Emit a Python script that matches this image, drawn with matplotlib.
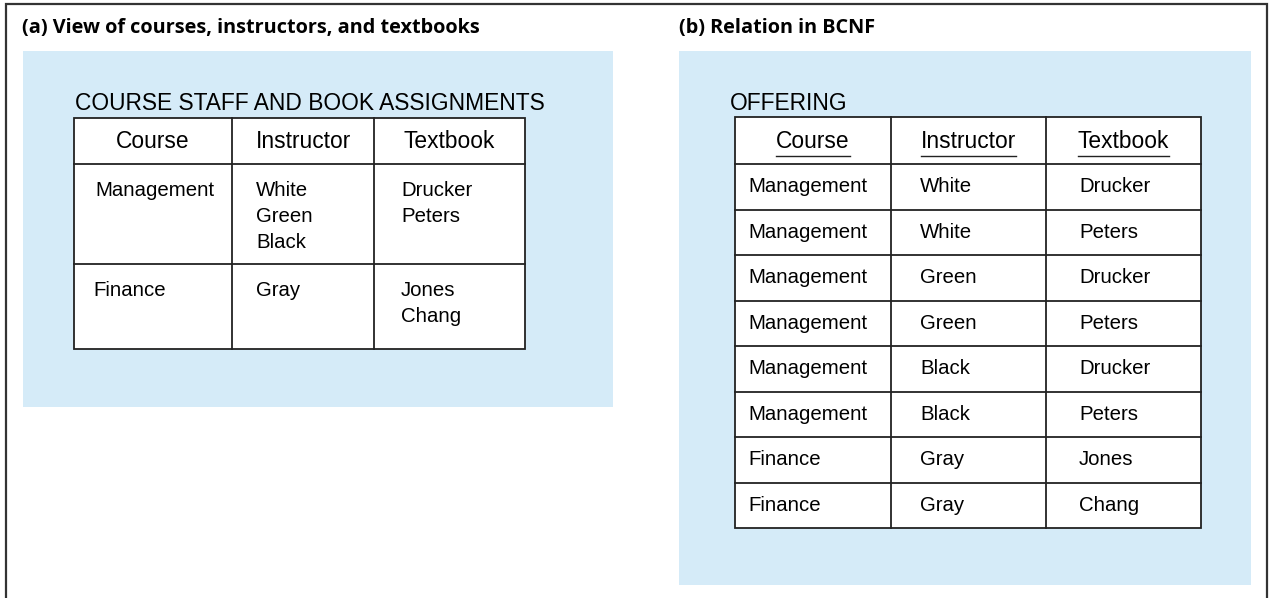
import matplotlib
matplotlib.use('Agg')
import matplotlib.pyplot as plt
from matplotlib.patches import Rectangle

# data
columns = ['Course', 'Instructor', 'Textbook']

# (a) unnormalized view, multi-valued cells
staff_courses = ['Management', 'Finance']
staff_instructors = [['White', 'Green', 'Black'], ['Gray']]
staff_textbooks = [['Drucker', 'Peters'], ['Jones', 'Chang']]

# (b) relation in BCNF
offer_course = ['Management', 'Management', 'Management', 'Management',
                'Management', 'Management', 'Finance', 'Finance']
offer_instructor = ['White', 'White', 'Green', 'Green',
                    'Black', 'Black', 'Gray', 'Gray']
offer_textbook = ['Drucker', 'Peters', 'Drucker', 'Peters',
                  'Drucker', 'Peters', 'Jones', 'Chang']

W, H = 1269, 598
BLUE = '#d5ebf8'
BODY = 'Liberation Sans'
TITLE = 'Open Sans'
FS_HEAD = 16.4
FS_BODY = 14.7
FS_TITLE = 14.3

fig = plt.figure(figsize=(W / 100, H / 100), dpi=100)
ax = fig.add_axes([0, 0, 1, 1])
ax.set_xlim(0, W)
ax.set_ylim(H, 0)
ax.axis('off')

# outer frame (open at the bottom)
ax.plot([6, 6, 1267, 1267], [H + 5, 4, 4, H + 5], color='#333333', lw=1.6,
        solid_joinstyle='miter')

# panel backgrounds
ax.add_patch(Rectangle((23, 51), 590, 356, fc=BLUE, ec='none'))
ax.add_patch(Rectangle((679, 51), 572, 534, fc=BLUE, ec='none'))

ax.text(22, 28, '(a) View of courses, instructors, and textbooks', fontsize=FS_TITLE,
        fontweight='bold', family=TITLE, va='center', ha='left')
ax.text(679, 28, '(b) Relation in BCNF', fontsize=FS_TITLE,
        fontweight='bold', family=TITLE, va='center', ha='left')


def grid(xs, ys):
    ax.add_patch(Rectangle((xs[0], ys[0]), xs[-1] - xs[0], ys[-1] - ys[0],
                           fc='white', ec='#222222', lw=1.3))
    for x in xs[1:-1]:
        ax.plot([x, x], [ys[0], ys[-1]], color='#222222', lw=1.3)
    for y in ys[1:-1]:
        ax.plot([xs[0], xs[-1]], [y, y], color='#222222', lw=1.3)


# ---- table (a)
xa = [74, 232, 374, 525]
ya = [118, 164, 264, 349]
ax.text(75, 103, 'COURSE STAFF AND BOOK ASSIGNMENTS', fontsize=FS_HEAD,
        family=BODY, va='center', ha='left')
grid(xa, ya)
for i, c in enumerate(columns):
    ax.text((xa[i] + xa[i + 1]) / 2, 141, c, fontsize=FS_HEAD, family=BODY,
            va='center', ha='center')
course_x = [95, 93]
for r in range(len(staff_courses)):
    top = ya[r + 1] + 26
    ax.text(course_x[r], top, staff_courses[r], fontsize=FS_BODY, family=BODY,
            va='center', ha='left')
    for k, name in enumerate(staff_instructors[r]):
        ax.text(256, top + 26 * k, name, fontsize=FS_BODY, family=BODY,
                va='center', ha='left')
    for k, name in enumerate(staff_textbooks[r]):
        ax.text(401, top + 26 * k, name, fontsize=FS_BODY, family=BODY,
                va='center', ha='left')

# ---- table (b)
xb = [735, 891, 1046, 1201]
yb = [117, 164] + [164 + 45.5 * (i + 1) for i in range(len(offer_course))]
ax.text(730, 103, 'OFFERING', fontsize=FS_HEAD, family=BODY, va='center', ha='left')
grid(xb, yb)
for i, c in enumerate(columns):
    t = ax.text((xb[i] + xb[i + 1]) / 2, 142, c, fontsize=FS_HEAD, family=BODY,
                va='center', ha='center')
    # key attributes underlined
    fig.canvas.draw()
    bb = t.get_window_extent().transformed(ax.transData.inverted())
    ax.plot([bb.x0, bb.x1], [156, 156], color='#222222', lw=1.0)
cols_b = [offer_course, offer_instructor, offer_textbook]
text_x = [748, 920, 1079]
for r in range(len(offer_course)):
    yc = (yb[r + 1] + yb[r + 2]) / 2
    for j in range(3):
        ax.text(text_x[j], yc, cols_b[j][r], fontsize=FS_BODY, family=BODY,
                va='center', ha='left')

fig.savefig('out.png', dpi=100)
